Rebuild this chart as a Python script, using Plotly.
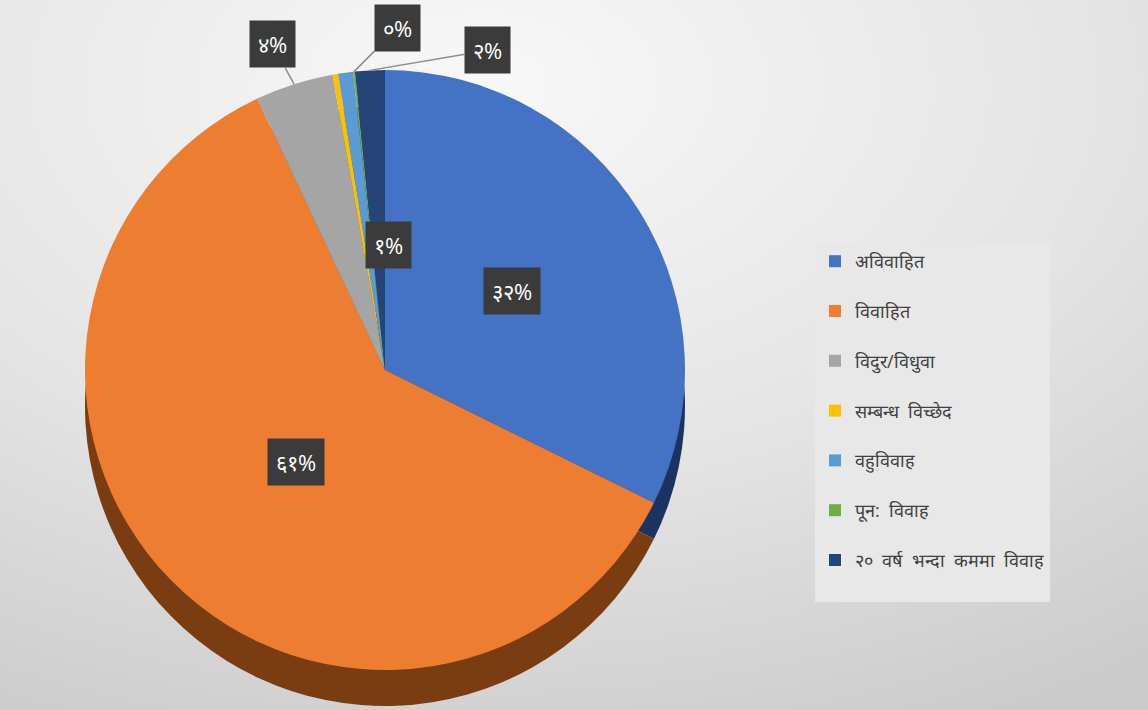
import base64
import math
import plotly.graph_objects as go

# ---- data ----
categories = ["अविवाहित", "विवाहित", "विदुर/विधुवा", "सम्बन्ध  विच्छेद",
              "वहुविवाह", "पून:  विवाह", "२०  वर्ष  भन्दा  कममा  विवाह"]
values = [32.3, 60.7, 4.2, 0.3, 0.8, 0.1, 1.6]

# ---- styles ----
colors = ["#4472C4", "#ED7D31", "#A5A5A5", "#FFC000", "#5B9BD5", "#70AD47", "#264478"]
side_colors = ["#1C3260", "#7A3D12", "#6E6E6E", "#A07800", "#3A6A98", "#4A7A2E", "#172B4E"]
# label placement per slice: ("in", radial fraction) / ("out", ax px, ay px) / None
label_style = [("in", 0.5), ("in", 0.55), ("out", -22, -40), None,
               ("in", 0.5), ("out", 44, -44), ("out", 118, -20)]

W, H = 1148, 710
CX, CY, R = 385, 370, 300
DEPTH = 36

dev = str.maketrans("0123456789", "०१२३४५६७८९")
total = sum(values)
pct_text = [f"{round(v / total * 100)}%".translate(dev) for v in values]


def dom(cx, cy, r):
    return dict(x=[(cx - r) / W, (cx + r) / W], y=[1 - (cy + r) / H, 1 - (cy - r) / H])


fig = go.Figure()
# side (depth) of the pie
fig.add_trace(go.Pie(labels=categories, values=values, sort=False, direction="clockwise",
                     rotation=0, marker=dict(colors=side_colors), textinfo="none",
                     hoverinfo="skip", showlegend=False, domain=dom(CX, CY + DEPTH, R)))
# top of the pie
fig.add_trace(go.Pie(labels=[c + "<br> " for c in categories], values=values, sort=False,
                     direction="clockwise", rotation=0, marker=dict(colors=colors),
                     textinfo="none", hovertemplate="%{label}: %{percent}<extra></extra>",
                     domain=dom(CX, CY, R)))

annotations = []
cum = 0.0
for v, txt, st in zip(values, pct_text, label_style):
    mid = (cum + v / 2) / total * 2 * math.pi
    cum += v
    if st is None:
        continue
    common = dict(xref="paper", yref="paper", text=txt, bgcolor="#3b3b3b",
                  font=dict(color="white", size=22), borderpad=8)
    if st[0] == "in":
        k = st[1]
        px, py = CX + k * R * math.sin(mid), CY - k * R * math.cos(mid)
        annotations.append(dict(x=px / W, y=1 - py / H, showarrow=False, **common))
    else:
        px, py = CX + R * math.sin(mid), CY - R * math.cos(mid)
        annotations.append(dict(x=px / W, y=1 - py / H, showarrow=True, ax=st[1], ay=st[2],
                                arrowhead=0, arrowwidth=1.5, arrowcolor="#8c8c8c",
                                standoff=0, **common))

svg = ("<svg xmlns='http://www.w3.org/2000/svg' width='1148' height='710'>"
       "<defs><radialGradient id='g' cx='0.42' cy='0.12' r='1.0'>"
       "<stop offset='0' stop-color='#f8f8f8'/><stop offset='0.55' stop-color='#e4e4e4'/>"
       "<stop offset='1' stop-color='#cbcbcb'/></radialGradient></defs>"
       "<rect width='100%' height='100%' fill='url(#g)'/></svg>")
bg = "data:image/svg+xml;base64," + base64.b64encode(svg.encode()).decode()

fig.update_layout(
    width=W, height=H,
    margin=dict(l=0, r=0, t=0, b=0),
    paper_bgcolor="#e4e4e4",
    images=[dict(source=bg, xref="paper", yref="paper", x=0, y=1, sizex=1, sizey=1,
                 sizing="stretch", layer="below")],
    annotations=annotations,
    legend=dict(x=815 / W, y=1 - 243 / H, xanchor="left", yanchor="top",
                bgcolor="#e8e8e8", font=dict(size=18, color="#404040"),
                valign="top", traceorder="normal"),
)

fig.write_html("out.html", config={"displayModeBar": False},
               post_script="document.body.style.margin='0';")
